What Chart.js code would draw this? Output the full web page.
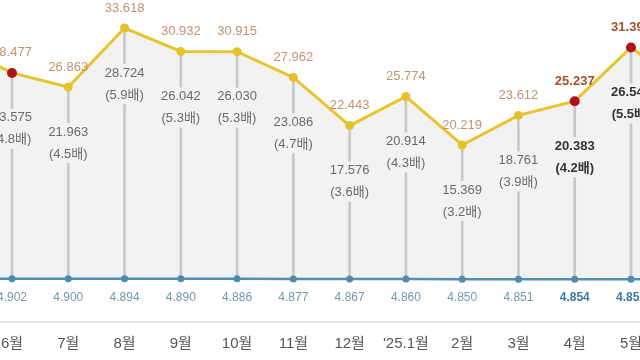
<!DOCTYPE html>
<html>
<head>
<meta charset="utf-8">
<script src="https://cdn.jsdelivr.net/npm/chart.js@4/dist/chart.umd.min.js"></script>
<style>
html, body { margin: 0; padding: 0; background: #fff; overflow: hidden; width: 640px; height: 360px; }
#wrap { position: absolute; left: -54px; top: 0; width: 751px; height: 360px; }
</style>
</head>
<body>
<div id="wrap"><canvas id="chart"></canvas></div>
<script>
// first and last month sit just outside the visible frame
const months = ['5월', '6월', '7월', '8월', '9월', '10월', '11월', '12월', "'25.1월", '2월', '3월', '4월', '5월', '6월'];
const totals = [31.66, 28.477, 26.863, 33.618, 30.932, 30.915, 27.962, 22.443, 25.774, 20.219, 23.612, 25.237, 31.392, 26.70];
const inner  = [26.755, 23.575, 21.963, 28.724, 26.042, 26.030, 23.086, 17.576, 20.914, 15.369, 18.761, 20.383, 26.540, 21.85];
const ratios = ['5.5배', '4.8배', '4.5배', '5.9배', '5.3배', '5.3배', '4.7배', '3.6배', '4.3배', '3.2배', '3.9배', '4.2배', '5.5배', '4.5배'];
const base   = [4.905, 4.902, 4.900, 4.894, 4.890, 4.886, 4.877, 4.867, 4.860, 4.850, 4.851, 4.854, 4.852, 4.850];
const redPts = [1, 11, 12];
const strong = [11, 12];

const FONT = '"Liberation Sans", "Noto Sans CJK KR", sans-serif';
const FILL = '#f2f2f2';

const labelPlugin = {
  id: 'valueLabels',
  afterDatasetsDraw(chart) {
    const ctx = chart.ctx;
    const top = chart.getDatasetMeta(0).data;
    const bot = chart.getDatasetMeta(1).data;
    ctx.save();
    ctx.textAlign = 'center';
    ctx.textBaseline = 'middle';
    top.forEach((pt, i) => {
      const b = strong.includes(i);
      const w = b ? 'bold ' : '';
      ctx.font = w + '13px ' + FONT;
      ctx.fillStyle = b ? '#a3502a' : '#c29272';
      ctx.fillText(totals[i].toFixed(3), pt.x, pt.y - 20);

      // value + ratio under the point, boxed so the stem hides behind
      const t1 = inner[i].toFixed(3), t2 = '(' + ratios[i] + ')';
      const bw = Math.max(ctx.measureText(t1).width, ctx.measureText(t2).width) + 4;
      ctx.fillStyle = FILL;
      ctx.fillRect(pt.x - bw / 2, pt.y + 36, bw, 40);
      ctx.fillStyle = b ? '#333' : '#6a6a6a';
      ctx.fillText(t1, pt.x, pt.y + 45);
      ctx.fillText(t2, pt.x, pt.y + 67);

      const bp = bot[i];
      ctx.font = w + '12px ' + FONT;
      ctx.fillStyle = b ? '#3c78a0' : '#7097b0';
      ctx.fillText(base[i].toFixed(3), bp.x, bp.y + 19);
    });
    ctx.restore();
  }
};

new Chart(document.getElementById('chart'), {
  data: {
    labels: months,
    datasets: [
      {
        type: 'line',
        data: totals,
        borderColor: '#e6c52e',
        borderWidth: 3,
        pointRadius: totals.map((v, i) => redPts.includes(i) ? 5 : 4.5),
        pointBackgroundColor: totals.map((v, i) => redPts.includes(i) ? '#b0141a' : '#e3c22b'),
        pointBorderWidth: 0,
        backgroundColor: FILL,
        fill: { target: 1 },
        tension: 0,
        order: 0
      },
      {
        type: 'line',
        data: base,
        borderColor: '#5190ae',
        borderWidth: 2.5,
        pointRadius: 3.5,
        pointBackgroundColor: '#4f8cab',
        pointBorderWidth: 0,
        fill: false,
        order: 1
      },
      {
        type: 'bar',
        data: base.map((v, i) => [v, totals[i]]),
        backgroundColor: '#c8c8c8',
        barThickness: 2,
        order: 2
      }
    ]
  },
  options: {
    responsive: true,
    maintainAspectRatio: false,
    animation: false,
    layout: { padding: { left: 9.73, right: 9.73, top: 0, bottom: 0 }, autoPadding: false },
    plugins: {
      legend: { display: false },
      tooltip: { enabled: false },
      filler: { drawTime: 'beforeDatasetsDraw' }
    },
    scales: {
      x: {
        offset: false,
        grid: { display: false, drawTicks: false },
        border: { display: true, color: '#e4e4e4', width: 2 },
        ticks: { color: '#555', font: { size: 15, family: FONT }, padding: 13, maxRotation: 0, autoSkip: false },
        afterFit(s) { s.height = 38.5; s.paddingLeft = 0; s.paddingRight = 0; }
      },
      y: { display: false, min: 0, max: 36.83 }
    }
  },
  plugins: [labelPlugin]
});
</script>
</body>
</html>
